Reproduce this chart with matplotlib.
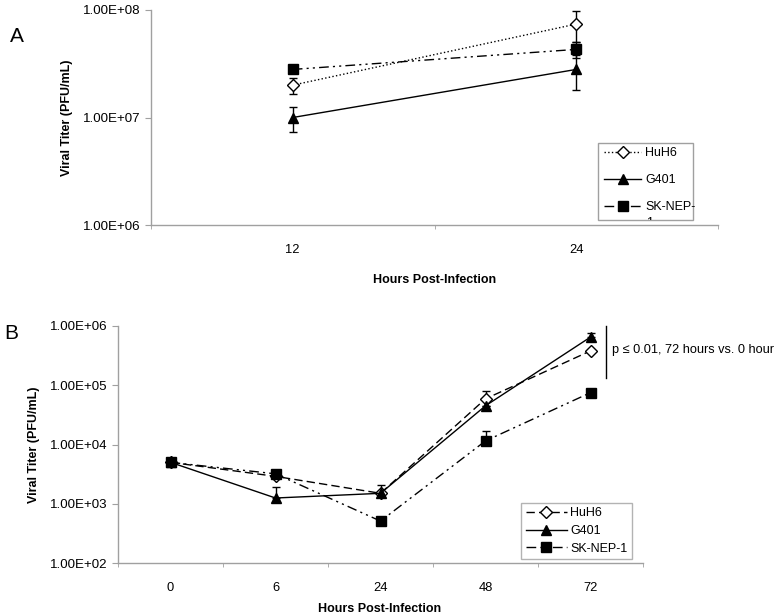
import numpy as np
import matplotlib
matplotlib.use("Agg")
from matplotlib import pyplot as plt
from matplotlib.patches import Rectangle
from matplotlib.transforms import Bbox, TransformedBbox

plt.rcParams['font.family'] = ['Liberation Sans', 'DejaVu Sans']

# panel A data
hours_a = ['12', '24']
huh6_a = [2.0e7, 7.4e7]
huh6_a_err = [3.5e6, 2.4e7]
g401_a = [1.0e7, 2.8e7]
g401_a_err = [2.6e6, 1.0e7]
sknep_a = [2.8e7, 4.3e7]
sknep_a_err = [0, 7e6]

# panel B data
hours_b = ['0', '6', '24', '48', '72']
huh6_b = [5.0e3, 2.9e3, 1.5e3, 5.9e4, 3.8e5]
huh6_b_err = [0, 6e2, 0, 2.1e4, 0]
g401_b = [5.0e3, 1.25e3, 1.5e3, 4.5e4, 6.5e5]
g401_b_err = [0, 6.5e2, 6e2, 0, 1.2e5]
sknep_b = [5.0e3, 3.2e3, 5.1e2, 1.15e4, 7.5e4]
sknep_b_err = [0, 5e2, 0, 5.5e3, 0]

gray = '#a0a0a0'
dashdotdot = (0, (7, 3, 1.5, 3, 1.5, 3))

fig = plt.figure(figsize=(7.81, 6.15), dpi=100)


def style_axes(ax, n):
    for s in ['top', 'right']:
        ax.spines[s].set_visible(False)
    for s in ['left', 'bottom']:
        ax.spines[s].set_color(gray)
        ax.spines[s].set_linewidth(1)
    ax.set_xlim(-0.5, n - 0.5)
    ax.set_xticks(np.arange(n))
    ax.set_xticks(np.arange(n + 1) - 0.5, minor=True)
    ax.tick_params(axis='x', which='major', length=0, labelsize=9.3, pad=14)
    ax.tick_params(axis='x', which='minor', length=3, color=gray)
    ax.tick_params(axis='y', which='major', length=4, color=gray, labelsize=9.6)
    ax.tick_params(axis='y', which='minor', length=0)
    ax.yaxis.set_major_formatter(plt.FuncFormatter(lambda v, p: '1.00E+%02d' % round(np.log10(v))))


#%% panel A
axA = fig.add_axes([151/781, 1-225/615, 567/781, 215/615])
x = np.arange(len(hours_a))
axA.errorbar(x, huh6_a, yerr=huh6_a_err, color='black', ls=':', lw=1, marker='D', ms=6,
             mfc='white', mec='black', capsize=3, elinewidth=1, label='HuH6')
axA.errorbar(x, g401_a, yerr=g401_a_err, color='black', ls='-', lw=1, marker='^', ms=7,
             capsize=3, elinewidth=1, label='G401')
axA.errorbar(x, sknep_a, yerr=sknep_a_err, color='black', ls=dashdotdot, lw=1, marker='s', ms=6.5,
             capsize=3, elinewidth=1, label='SK-NEP-')
axA.set_yscale('log')
axA.set_ylim(1e6, 1e8)
style_axes(axA, len(hours_a))
axA.set_xticklabels(hours_a)
axA.set_yticks([1e6, 1e7, 1e8])
axA.set_xlabel('Hours Post-Infection', fontsize=9, fontweight='bold')
axA.xaxis.set_label_coords(0.5, -0.228)
axA.set_ylabel('Viral Titer (PFU/mL)', fontsize=9, fontweight='bold')
axA.yaxis.set_label_coords(-0.1376, 0.5)

# legend box of panel A cuts the wrapped "1" of SK-NEP-1
box = [0.788, 0.023, 0.956, 0.381]
rectA = Rectangle((box[0], box[1]), box[2]-box[0], box[3]-box[1], transform=axA.transAxes,
                  fill=False, ec=gray, lw=1, clip_on=False)
axA.add_patch(rectA)
h, l = axA.get_legend_handles_labels()
h = [hh[0] for hh in h]
legA = axA.legend(h, l, loc='upper left', bbox_to_anchor=(0.79, 0.385), frameon=False,
                  fontsize=9, handlelength=3.0, labelspacing=1.2, handletextpad=0.3,
                  borderaxespad=0)
t1 = axA.text(0.873, 0.035, '1', fontsize=9, transform=axA.transAxes, va='top')
t1.set_clip_box(TransformedBbox(Bbox([[box[0], box[1]], [box[2], box[3]]]), axA.transAxes))
t1.set_clip_on(True)
fig.text(0.013, 0.94, 'A', fontsize=15, va='center')

#%% panel B
axB = fig.add_axes([118/781, 1-563/615, 525/781, 237/615])
x = np.arange(len(hours_b))
zeros = [0] * len(hours_b)
axB.errorbar(x, huh6_b, yerr=[zeros, huh6_b_err], color='black', ls=(0, (6, 3)), lw=1, marker='D', ms=6,
             mfc='white', mec='black', capsize=3, elinewidth=1, label='HuH6')
axB.errorbar(x, g401_b, yerr=[zeros, g401_b_err], color='black', ls='-', lw=1, marker='^', ms=7.5,
             capsize=3, elinewidth=1, label='G401')
axB.errorbar(x, sknep_b, yerr=[zeros, sknep_b_err], color='black', ls=dashdotdot, lw=1, marker='s', ms=7,
             capsize=3, elinewidth=1, label='SK-NEP-1')
axB.set_yscale('log')
axB.set_ylim(1e2, 1e6)
style_axes(axB, len(hours_b))
axB.set_xticklabels(hours_b)
axB.set_yticks([1e2, 1e3, 1e4, 1e5, 1e6])
axB.set_xlabel('Hours Post-Infection', fontsize=9, fontweight='bold')
axB.xaxis.set_label_coords(0.499, -0.169)
axB.set_ylabel('Viral Titer (PFU/mL)', fontsize=9, fontweight='bold')
axB.yaxis.set_label_coords(-0.149, 0.5)
h, l = axB.get_legend_handles_labels()
h = [hh[0] for hh in h]
legB = axB.legend(h, l, loc='lower left', bbox_to_anchor=(0.768, 0.017), fontsize=9,
                  handlelength=3.3, labelspacing=0.45, handletextpad=0.25, borderaxespad=0,
                  fancybox=False, edgecolor=gray, borderpad=0.35)
legB.get_frame().set_linewidth(1)

# significance bar at 72 h
axB.plot([4.15, 4.15], [1e6, 1.3e5], color='black', lw=1, clip_on=False)
axB.text(4.2, 4e5, 'p \u2264 0.01, 72 hours vs. 0 hour', fontsize=9.2, va='center', clip_on=False)
fig.text(0.005, 0.458, 'B', fontsize=15, va='center')

fig.savefig('out.png', dpi=100)
